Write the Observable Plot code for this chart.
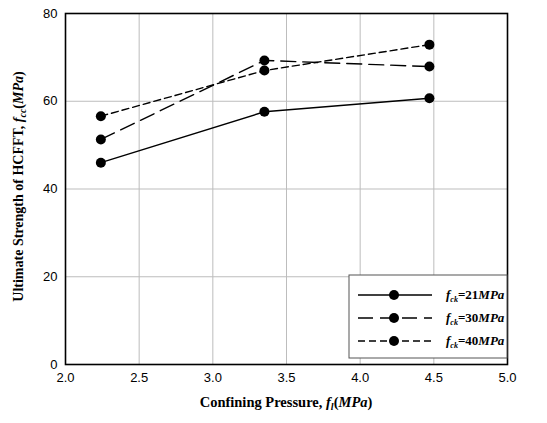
<!DOCTYPE html>
<html><head><meta charset="utf-8">
<script src="https://cdn.jsdelivr.net/npm/d3@7"></script>
<script src="https://cdn.jsdelivr.net/npm/@observablehq/plot@0.6"></script>
<style>body{margin:0;background:#fff}</style>
</head><body><div id="chart"></div>
<script>
const pressure = [2.24, 3.35, 4.47];
const fc21 = [46.0, 57.6, 60.7];
const fc30 = [51.3, 69.3, 67.9];
const fc40 = [56.6, 67.0, 72.9];
const seriesNames = ["21", "30", "40"];
const xTicks = [2.0, 2.5, 3.0, 3.5, 4.0, 4.5, 5.0];
const yTicks = [0, 20, 40, 60, 80];

const dashes = {"21": null, "30": "15,7", "40": "7,4"};
const data = [];
[fc21, fc30, fc40].forEach((vals, i) => vals.forEach((v, j) => data.push({s: seriesNames[i], x: pressure[j], y: v})));

const W = 547, H = 423;
const plot = Plot.plot({
  width: W, height: H,
  marginLeft: 65, marginRight: 40, marginTop: 13, marginBottom: 59,
  style: {fontFamily: "Liberation Sans, Arial, sans-serif", fontSize: "13px", color: "#000", background: "#fff"},
  x: {domain: [2, 5], ticks: xTicks, tickFormat: d3.format(".1f"), label: null, tickSize: 0, tickPadding: 8},
  y: {domain: [0, 80], ticks: yTicks, label: null, tickSize: 0, tickPadding: 8},
  marks: [
    Plot.gridX(xTicks, {stroke: "#bdbdbd", strokeOpacity: 1, strokeWidth: 1}),
    Plot.gridY(yTicks, {stroke: "#bdbdbd", strokeOpacity: 1, strokeWidth: 1}),
    ...seriesNames.map(s => Plot.line(data.filter(d => d.s === s), {x: "x", y: "y", stroke: "#000", strokeWidth: 1.4, strokeDasharray: dashes[s]})),
    Plot.dot(data, {x: "x", y: "y", r: 5, fill: "#000", stroke: "none"}),
    Plot.frame({stroke: "#000", strokeWidth: 1.6})
  ]
});
document.getElementById("chart").appendChild(plot);

const svg = d3.select(plot);
const xs = plot.scale("x"), ys = plot.scale("y");
const serif = "Liberation Serif, Times New Roman, serif";

// X axis title
const xt = svg.append("text").attr("x", (xs.apply(2) + xs.apply(5)) / 2).attr("y", 407)
  .attr("text-anchor", "middle").attr("font-family", serif).attr("font-size", 14.5).attr("font-weight", "bold").attr("fill", "#000");
xt.append("tspan").text("Confining Pressure, ");
xt.append("tspan").attr("font-style", "italic").text("f");
xt.append("tspan").attr("font-style", "italic").attr("font-size", 10).attr("dy", 3).text("l");
xt.append("tspan").attr("dy", -3).text("(");
xt.append("tspan").attr("font-style", "italic").text("MPa");
xt.append("tspan").text(")");

// Y axis title
const yc = (ys.apply(0) + ys.apply(80)) / 2;
const yt = svg.append("text").attr("transform", `translate(23,${yc - 2}) rotate(-90)`)
  .attr("text-anchor", "middle").attr("font-family", serif).attr("font-size", 14).attr("font-weight", "bold").attr("fill", "#000");
yt.append("tspan").text("Ultimate Strength of HCFFT, ");
yt.append("tspan").attr("font-style", "italic").text("f");
yt.append("tspan").attr("font-style", "italic").attr("font-size", 10).attr("dy", 3).text("cc");
yt.append("tspan").attr("dy", -3).text("(");
yt.append("tspan").attr("font-style", "italic").text("MPa");
yt.append("tspan").text(")");

// Legend
const lg = svg.append("g");
lg.append("rect").attr("x", 349).attr("y", 275).attr("width", 158).attr("height", 83)
  .attr("fill", "#fff").attr("stroke", "#555").attr("stroke-width", 1);
seriesNames.forEach((s, i) => {
  const y = 295 + i * 23;
  lg.append("line").attr("x1", 358).attr("x2", 432).attr("y1", y).attr("y2", y)
    .attr("stroke", "#000").attr("stroke-width", 1.4).attr("stroke-dasharray", dashes[s]);
  lg.append("circle").attr("cx", 394).attr("cy", y).attr("r", 5).attr("fill", "#000");
  const t = lg.append("text").attr("x", 446).attr("y", y + 4).attr("text-anchor", "start").attr("font-family", serif)
    .attr("font-size", 13).attr("font-weight", "bold").attr("font-style", "italic").attr("fill", "#000");
  t.append("tspan").text("f");
  t.append("tspan").attr("font-size", 8).attr("dy", 3).text("ck");
  t.append("tspan").attr("dy", -3).attr("font-style", "normal").text("=" + s);
  t.append("tspan").text("MPa");
});
</script></body></html>
